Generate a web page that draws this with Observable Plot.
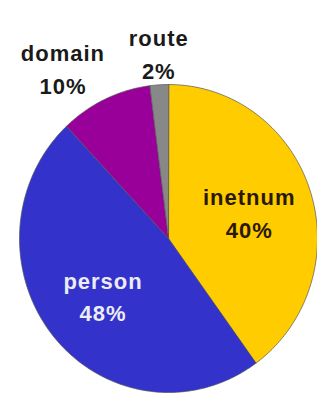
<!DOCTYPE html>
<html><head><meta charset="utf-8">
<script src="https://cdn.jsdelivr.net/npm/d3@7"></script>
<script src="https://cdn.jsdelivr.net/npm/@observablehq/plot@0.6"></script>
<style>body{margin:0;background:#fff}</style>
</head><body><div id="chart"></div>
<script>
const categories = ["inetnum", "person", "domain", "route"];
const values = [40, 48, 10, 2];
const colors = ["#FFCC00", "#3333CC", "#990099", "#888888"];
const labelColors = ["#2a1800", "#ececf4", "#1a1a1a", "#1a1a1a"];
const labelPlacement = ["inside", "inside", "outside", "outside"];

const fontSize = 22;
const total = d3.sum(values);
let acc = 0;
const slices = categories.map((c, i) => {
  const a0 = acc / total * 2 * Math.PI;
  acc += values[i];
  const a1 = acc / total * 2 * Math.PI;
  return {c, v: values[i], a0, a1, i};
});

const poly = [];
for (const s of slices) {
  poly.push({c: s.c, x: 0, y: 0});
  const n = Math.max(2, Math.ceil((s.a1 - s.a0) / (Math.PI / 180)));
  for (let k = 0; k <= n; k++) {
    const a = s.a0 + (s.a1 - s.a0) * k / n;
    poly.push({c: s.c, x: Math.sin(a), y: Math.cos(a)});
  }
}

const labelMarks = slices.map(s => {
  const m = (s.a0 + s.a1) / 2;
  const inside = labelPlacement[s.i] === "inside";
  const r = inside ? 0.57 : 1.04;
  const text = `${s.c}\n${s.v}%`;
  const d = {x: Math.sin(m) * r, y: Math.cos(m) * r, t: text};
  let dx = 0, dy = 0;
  if (!inside) {
    // push the label box fully outside the pie, away from the anchor point
    const halfW = Math.max(s.c.length, String(s.v).length + 1) * fontSize * 0.6 / 2;
    const halfH = fontSize * 1.2;
    const sx = Math.sin(m), cy = Math.cos(m);
    dx = Math.abs(sx) < 0.2 ? 0 : Math.sign(sx) * halfW;
    dy = Math.abs(cy) < 0.2 ? 0 : -Math.sign(cy) * halfH;
  }
  return Plot.text([d], {
    x: "x", y: "y", text: "t",
    textAnchor: "middle", lineAnchor: "middle",
    dx, dy,
    lineHeight: 1.5,
    fontSize, fontWeight: "bold",
    fill: labelColors[s.i]
  });
});

const chart = Plot.plot({
  width: 317, height: 394,
  marginLeft: 19, marginRight: 0, marginTop: 84, marginBottom: 2,
  x: {domain: [-1, 1], axis: null},
  y: {domain: [-1, 1], axis: null},
  color: {domain: categories, range: colors},
  style: {fontFamily: "'Liberation Sans', Arial, sans-serif", background: "white", letterSpacing: "1px", overflow: "visible"},
  marks: [
    Plot.line(poly, {x: "x", y: "y", z: "c", fill: "c", stroke: "#555", strokeWidth: 0.7, curve: "linear-closed"}),
    ...labelMarks
  ]
});
document.getElementById("chart").append(chart);
</script>
</body></html>
